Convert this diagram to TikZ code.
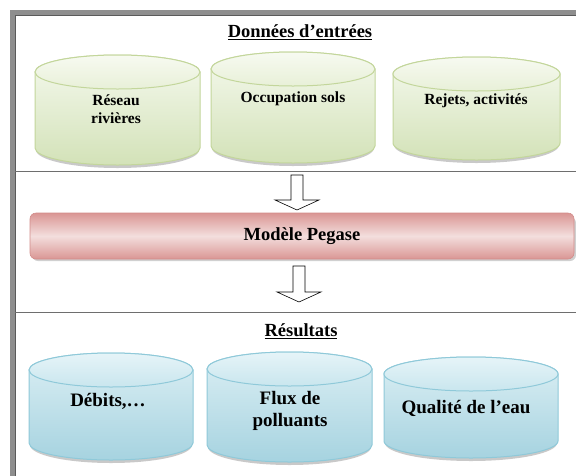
\documentclass[tikz,border=0pt]{standalone}
\usepackage{fontspec}
\setmainfont{Liberation Serif}
\definecolor{frameg}{HTML}{8E8E8E}
\definecolor{framed}{HTML}{5A5A5A}
\definecolor{divline}{HTML}{6E6E6E}
\definecolor{gtop}{HTML}{F5F9EE}
\definecolor{gbot}{HTML}{D3E2B8}
\definecolor{gline}{HTML}{C3D69B}
\definecolor{gcapa}{HTML}{E8F0D8}
\definecolor{gcapb}{HTML}{F7FAF1}
\definecolor{btop}{HTML}{DCEFF4}
\definecolor{bbot}{HTML}{A6D3E0}
\definecolor{bline}{HTML}{8FC9D9}
\definecolor{bcapa}{HTML}{C9E6EE}
\definecolor{bcapb}{HTML}{E6F4F8}
\definecolor{ptop}{HTML}{DA9694}
\definecolor{pmid}{HTML}{F3DEDD}
\definecolor{pline}{HTML}{D28C8A}
\tikzset{
  lbl/.style={font=\fontsize{15.5}{18}\selectfont\bfseries, align=center, inner sep=0pt},
  lblbig/.style={font=\fontsize{19}{22}\selectfont\bfseries, align=center, inner sep=0pt},
  ttl/.style={font=\fontsize{18.5}{20}\selectfont\bfseries, inner sep=0pt},
  blockarrow/.style={draw=black, line width=0.6pt, fill=white, line join=miter},
  divider/.style={draw=divline, line width=1pt},
  pinkbox/.style={rounded corners=6pt, draw=pline, line width=0.6pt,
    top color=ptop, bottom color=ptop, middle color=pmid,
    minimum width=544pt, minimum height=46pt,
    font=\fontsize{18.5}{20}\selectfont\bfseries}
}
\newcommand\mycyl[6]{%
  \pgfmathsetmacro\cylcx{(#1+#2)/2}%
  \pgfmathsetmacro\cylrx{(#2-#1)/2}%
  \fill[black!35, opacity=0.6] (#1+1,#4-15) arc[start angle=180,end angle=360,x radius=\cylrx pt-1pt,y radius=18pt] -- cycle;
  \draw[#5line, line width=1pt, top color=#5top, bottom color=#5bot]
    (#1,#3+17) -- (#1,#4-17) arc[start angle=180,end angle=360,x radius=\cylrx pt,y radius=17pt]
    -- (#2,#3+17) arc[start angle=0,end angle=180,x radius=\cylrx pt,y radius=17pt] -- cycle;
  \draw[#5line, line width=1pt, top color=#5capb, bottom color=#5capa]
    (\cylcx,#3+17) ellipse[x radius=\cylrx pt, y radius=17pt];
  \coordinate (#6) at (\cylcx,#3+17);
}
\begin{document}
\begin{tikzpicture}[x=1pt,y=-1pt]
\useasboundingbox (0,0) rectangle (576,475);
\fill[white] (0,0) rectangle (576,475);
% frame
\draw[frameg, line width=5pt] (12.5,476) -- (12.5,12.5) -- (577,12.5);
\draw[framed, line width=0.8pt] (15.2,476) -- (15.2,15.2) -- (577,15.2);
\coordinate (d1a) at (15,171); \coordinate (d1b) at (577,171);
\coordinate (d2a) at (15,312); \coordinate (d2b) at (577,312);
\draw[divider] (d1a) -- (d1b);
\draw[divider] (d2a) -- (d2b);
% top section
\node[ttl] (title1) at (300,32) {\underline{Données d’entrées}};
\mycyl{35}{200}{55}{165}{g}{c1}
\mycyl{211}{375}{52}{163}{g}{c2}
\mycyl{393}{560}{57}{160}{g}{c3}
\node[lbl] (t1) at (116,109) {Réseau\\rivières};
\node[lbl] (t2) at (293,99) {Occupation sols};
\node[lbl] (t3) at (476,101) {Rejets, activités};
% arrow 1
\draw[blockarrow] (291,175) -- (303,175) -- (303,200) -- (319,200) -- (297,210) -- (275,200) -- (291,200) -- cycle;
% model box
\fill[black!30, opacity=0.6, rounded corners=6pt] (32,217) rectangle (576,261);
\node[pinkbox] (model) at (302,236) {Modèle Pegase};
% arrow 2
\draw[blockarrow] (293,266) -- (305,266) -- (305,292) -- (321,292) -- (299,302) -- (277,292) -- (293,292) -- cycle;
% bottom section
\node[ttl] (title2) at (301,331) {\underline{Résultats}};
\mycyl{29}{193}{353}{460}{b}{c4}
\mycyl{207}{372}{352}{462}{b}{c5}
\mycyl{384}{558}{357}{458}{b}{c6}
\node[lblbig] (t4) at (108,401) {Débits,…};
\node[lblbig] (t5) at (290,411) {Flux de\\polluants};
\node[lblbig] (t6) at (466,408) {Qualité de l’eau};
\end{tikzpicture}
\end{document}
